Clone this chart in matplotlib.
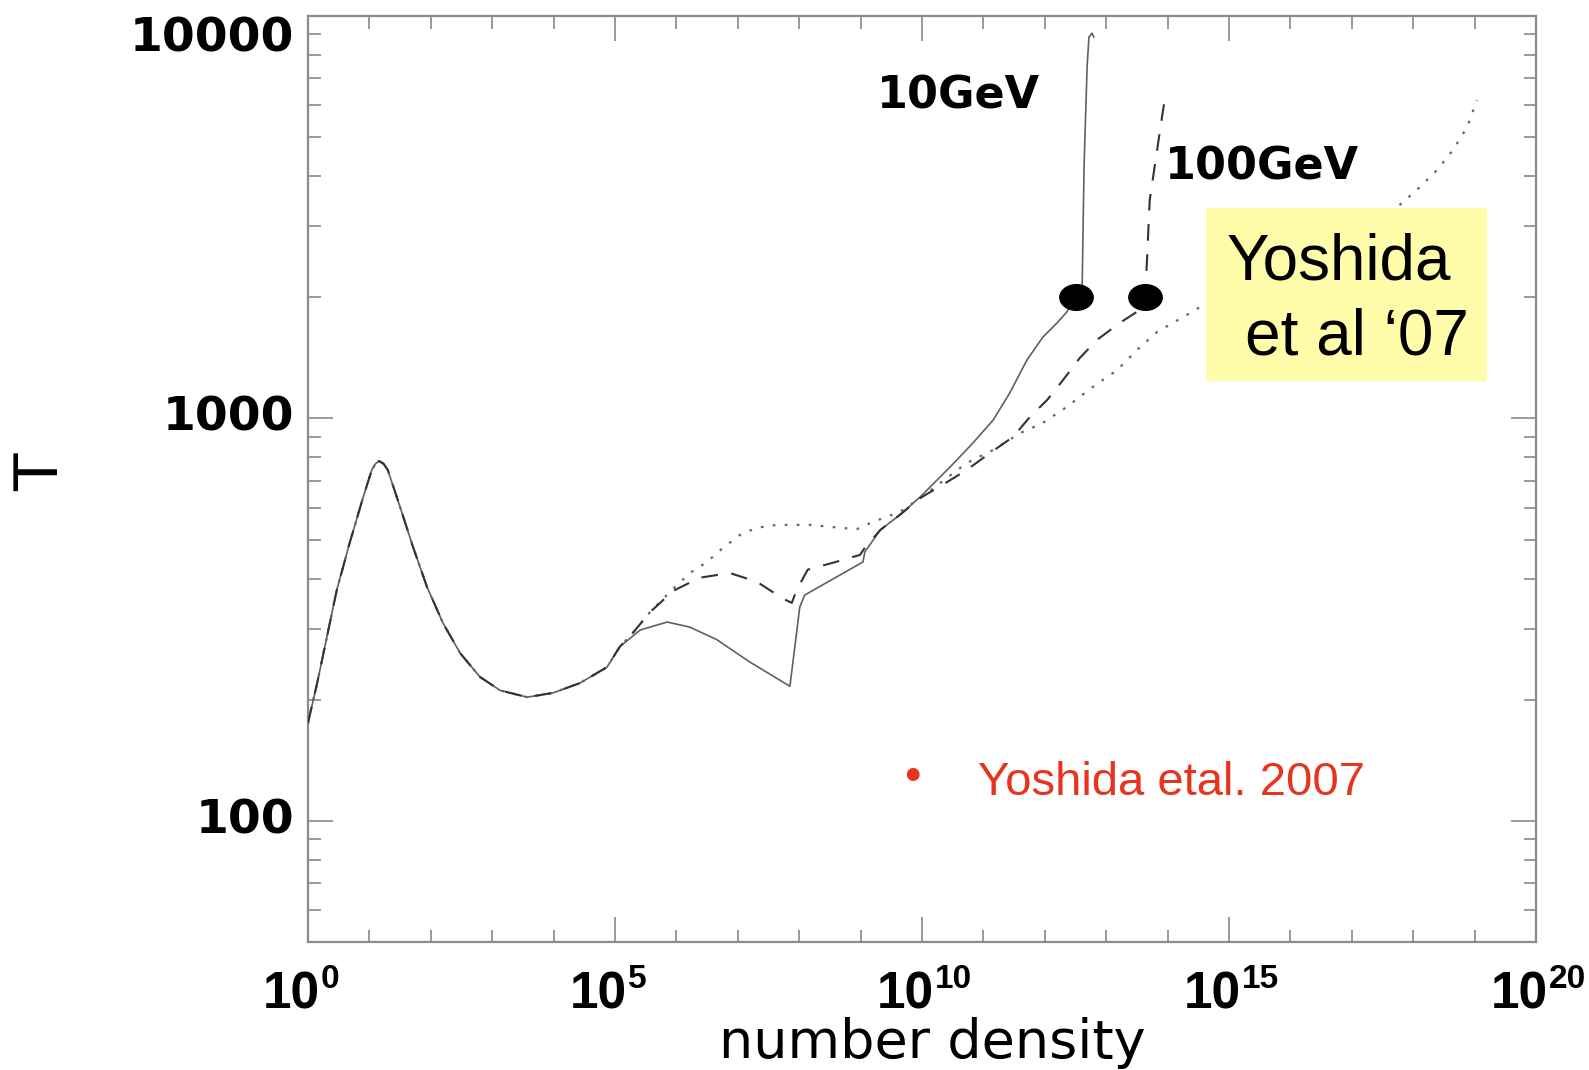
import numpy as np
import matplotlib
matplotlib.use("Agg")
import matplotlib.pyplot as plt
import matplotlib.transforms as mtransforms
from matplotlib.path import Path
from matplotlib.patches import Rectangle

# log10(number density) and T for the part shared by all three runs
logn_common = [0.0, 0.15, 0.31, 0.47, 0.68, 0.90, 1.04, 1.10, 1.16, 1.23, 1.30, 1.50, 1.71, 1.94,
               2.20, 2.48, 2.80, 3.13, 3.57, 3.99, 4.43, 4.87, 5.08]
T_common = [175, 220, 287, 375, 491, 638, 745, 772, 784, 772, 745, 603, 480, 381,
            310, 261, 228, 211, 203, 208, 220, 241, 271]

# 10GeV (solid)
logn_10 = [5.41, 5.85, 6.22, 6.66, 7.20, 7.85, 8.01, 8.09, 9.04, 9.07, 9.32, 9.64, 9.97,
           10.46, 10.83, 11.16, 11.43, 11.71, 11.97, 12.20, 12.36, 12.51, 12.61,
           12.64, 12.69, 12.72, 12.77, 12.80]
T_10 = [298, 312, 303, 282, 248, 216, 340, 364, 440, 466, 528, 576, 638,
        758, 869, 991, 1157, 1397, 1593, 1727, 1840, 2005, 2122,
        4217, 7470, 8870, 9070, 8870]

# 100GeV (dashed)
logn_100 = [5.29, 5.57, 5.95, 6.38, 6.87, 7.31, 7.72, 7.88, 7.96, 8.14, 8.55, 8.99, 9.07,
            9.32, 9.64, 9.97, 10.41, 10.73, 11.11, 11.48, 11.76, 12.04, 12.30, 12.57,
            12.85, 13.22, 13.50, 13.63, 13.66, 13.71, 13.83, 13.91, 13.96]
T_100 = [293, 330, 373, 402, 413, 393, 358, 348, 375, 421, 438, 458, 477,
         528, 576, 634, 695, 745, 821, 899, 1009, 1112, 1247, 1413,
         1567, 1727, 1840, 2005, 2379, 3491, 4645, 5612, 6290]

# Yoshida et al. 2007 (dotted)
logn_yo = [5.29, 5.57, 5.93, 6.22, 6.50, 6.76, 7.04, 7.31, 7.64, 8.18, 8.66, 8.94, 9.20,
           9.64, 9.97, 10.73, 11.16, 11.60, 11.97, 12.36, 12.78, 13.18, 13.50, 13.83,
           14.25, 14.64, 15.5, 16.5, 17.2, 17.74, 18.06, 18.39, 18.65, 18.88, 19.04]
T_yo = [293, 330, 375, 413, 440, 477, 514, 535, 544, 544, 535, 531, 553,
        586, 634, 775, 835, 920, 975, 1069, 1197, 1319, 1479, 1640,
        1786, 1936, 2300, 2750, 3050, 3352, 3697, 4143, 4645, 5297, 6183]

# big black dots where the runs stop following the models
logn_dots = [12.51, 13.63]
T_dots = [2005, 2005]

xtick_exp = [0, 5, 10, 15, 20]
ytick_vals = [100, 1000, 10000]
ytick_text = ['100', '1000', '10000']

fig = plt.figure(figsize=(15.89, 10.70), dpi=100)
ax = fig.add_axes([0.1938, 0.1196, 0.7728, 0.8654])

def curve(logn_branch, T_branch):
    x = 10.0 ** np.array(logn_common + logn_branch)
    y = np.array(T_common + T_branch)
    return x, y

x, y = curve(logn_10, T_10)
ax.plot(x, y, color='#606060', lw=1.2, zorder=3)
x, y = curve(logn_100, T_100)
ax.plot(x, y, color='#333333', lw=1.5, dashes=(8, 6.5), zorder=3)
x, y = curve(logn_yo, T_yo)
ax.plot(x, y, color='#666666', lw=1.6, dashes=(1.2, 4.2), zorder=2)

theta = np.linspace(0, 2 * np.pi, 61)
ellipse = Path(np.column_stack([1.3 * np.cos(theta), np.sin(theta)]), closed=True)
ax.plot(10.0 ** np.array(logn_dots), T_dots, ls='none', marker=ellipse,
        markersize=24, color='black', zorder=4)

ax.set_xscale('log')
ax.set_yscale('log')
ax.set_xlim(1, 1e20)
ax.set_ylim(50, 10000)

ax.xaxis.set_major_locator(matplotlib.ticker.FixedLocator([10.0 ** e for e in xtick_exp]))
ax.xaxis.set_minor_locator(matplotlib.ticker.FixedLocator(
    [10.0 ** e for e in range(21) if e not in xtick_exp]))
ax.yaxis.set_major_locator(matplotlib.ticker.FixedLocator(ytick_vals))
ax.yaxis.set_minor_locator(matplotlib.ticker.LogLocator(base=10, subs=np.arange(2, 10)))
for axis in (ax.xaxis, ax.yaxis):
    axis.set_major_formatter(matplotlib.ticker.NullFormatter())
    axis.set_minor_formatter(matplotlib.ticker.NullFormatter())

ax.tick_params(which='both', direction='in', top=True, right=True, color='#888888', width=1.2)
ax.tick_params(which='major', length=18)
ax.tick_params(which='minor', length=9)
for s in ax.spines.values():
    s.set_color('#8c8c8c')
    s.set_linewidth(1.6)

# x tick labels: "10" plus a raised exponent, narrow bold like the original
narrow = ['Liberation Sans Narrow', 'Liberation Sans']
xtrans = mtransforms.blended_transform_factory(ax.transData, ax.transAxes)
for e in xtick_exp:
    base = mtransforms.offset_copy(xtrans, fig=fig, x=12, units='dots')
    sup = mtransforms.offset_copy(xtrans, fig=fig, x=13, units='dots')
    ax.text(10.0 ** e, -0.0713, '10', transform=base, ha='right', va='baseline',
            fontsize=37, fontweight='bold', family=narrow, clip_on=False)
    ax.text(10.0 ** e, -0.0497, str(e), transform=sup, ha='left', va='baseline',
            fontsize=24, fontweight='bold', family=narrow, clip_on=False)

# y tick labels, drawn by hand so the top one can hang under the frame
ytrans = mtransforms.blended_transform_factory(ax.transAxes, ax.transData)
for v, t in zip(ytick_vals, ytick_text):
    ax.text(-0.011, v, t, transform=ytrans, ha='right',
            va='top' if v == ytick_vals[-1] else 'center',
            fontsize=34, fontweight='bold', clip_on=False)

fig.text(42 / 1589, 1 - 472 / 1070, 'T', rotation=90, ha='center', va='center', fontsize=44)
fig.text(932 / 1589, 1 - 1058 / 1070, 'number density', ha='center', va='baseline', fontsize=39)

ax.text(0.463, 0.900, '10GeV', transform=ax.transAxes, fontsize=32, fontweight='bold')
ax.text(0.698, 0.823, '100GeV', transform=ax.transAxes, fontsize=32, fontweight='bold')

ax.add_patch(Rectangle((0.731, 0.606), 0.229, 0.187, transform=ax.transAxes,
                       facecolor='#fffcaa', edgecolor='none', zorder=5))
ax.text(0.748, 0.715, 'Yoshida', transform=ax.transAxes, fontsize=46,
        family='Liberation Sans', va='baseline', zorder=6)
ax.text(0.763, 0.634, 'et al \u201807', transform=ax.transAxes, fontsize=46,
        family='Liberation Sans', va='baseline', zorder=6)

ax.text(0.492, 0.177, '\u2022', transform=ax.transAxes, fontsize=34, color='#e8341c',
        family='Liberation Sans', ha='center', va='center')
ax.text(0.546, 0.159, 'Yoshida etal. 2007', transform=ax.transAxes, fontsize=34,
        color='#e8341c', family='Liberation Sans', va='baseline')

fig.savefig('out.png', dpi=100)
